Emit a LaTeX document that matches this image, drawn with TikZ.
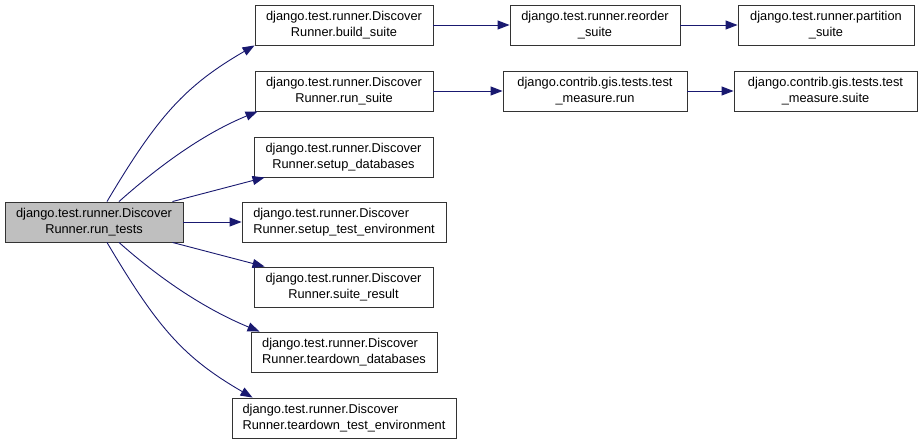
\documentclass[tikz,border=0pt]{standalone}
\usepackage{fontspec}
\setmainfont{Liberation Sans}
\usetikzlibrary{arrows.meta}
\definecolor{edgeblue}{RGB}{25,25,112}
\definecolor{rootfill}{RGB}{191,191,191}
\begin{document}
\begin{tikzpicture}[x=1pt,y=-1pt,
  box/.style={draw=black!80, line width=0.9pt, fill=white, inner sep=0pt,
    font=\fontsize{12.8}{16}\selectfont, align=center},
  lbox/.style={box, align=left},
  rootbox/.style={box, fill=rootfill},
  edge/.style={draw=edgeblue, line width=0.9pt, -{Triangle[length=12pt,width=9pt]}}]
\useasboundingbox (0,0) rectangle (923,444);
\node[rootbox, minimum width=178pt, minimum height=40pt] (root) at (94,222) {django.test.runner.Discover\\Runner.run\_tests};
\node[box, minimum width=178pt, minimum height=40pt] (build) at (344,25) {django.test.runner.Discover\\Runner.build\_suite};
\node[box, minimum width=178pt, minimum height=40pt] (runsuite) at (344,91) {django.test.runner.Discover\\Runner.run\_suite};
\node[box, minimum width=170pt, minimum height=40pt] (reorder) at (595,25) {django.test.runner.reorder\\\_suite};
\node[box, minimum width=176pt, minimum height=40pt] (partition) at (826,25) {django.test.runner.partition\\\_suite};
\node[box, minimum width=184pt, minimum height=40pt] (tmrun) at (595,91) {django.contrib.gis.tests.test\\\_measure.run};
\node[box, minimum width=183pt, minimum height=40pt] (tmsuite) at (825.5,91) {django.contrib.gis.tests.test\\\_measure.suite};
\node[box, minimum width=179pt, minimum height=40pt] (setupdb) at (343.5,157) {django.test.runner.Discover\\Runner.setup\_databases};
\node[lbox, minimum width=204pt, minimum height=40pt] (setupte) at (344,222) {django.test.runner.Discover\\Runner.setup\_test\_environment};
\node[box, minimum width=179pt, minimum height=40pt] (suiteres) at (343.5,287) {django.test.runner.Discover\\Runner.suite\_result};
\node[lbox, minimum width=186pt, minimum height=40pt] (teardb) at (344,352) {django.test.runner.Discover\\Runner.teardown\_databases};
\node[lbox, minimum width=224pt, minimum height=40pt] (tearte) at (344,418) {django.test.runner.Discover\\Runner.teardown\_test\_environment};

\draw[edge] ([xshift=13pt]root.north) .. controls +(51,-86) and +(-69,40) .. (build.south west);
\draw[edge] ([xshift=25pt]root.north) .. controls +(45,-40) and +(-51,21) .. ([xshift=3pt]runsuite.south west);
\draw[edge] ([xshift=-11pt]root.north east) -- ([xshift=11pt]setupdb.south west);
\draw[edge] (root.east) -- (setupte.west);
\draw[edge] ([xshift=-11pt]root.south east) -- ([xshift=11pt]suiteres.north west);
\draw[edge] ([xshift=25pt]root.south) .. controls +(45,40) and +(-51,-21) .. ([xshift=9pt]teardb.north west);
\draw[edge] ([xshift=13pt]root.south) .. controls +(51,86) and +(-69,-40) .. ([xshift=21pt]tearte.north west);

\draw[edge] (build.east) -- (reorder.west);
\draw[edge] (reorder.east) -- (partition.west);
\draw[edge] (runsuite.east) -- (tmrun.west);
\draw[edge] (tmrun.east) -- (tmsuite.west);
\end{tikzpicture}
\end{document}
